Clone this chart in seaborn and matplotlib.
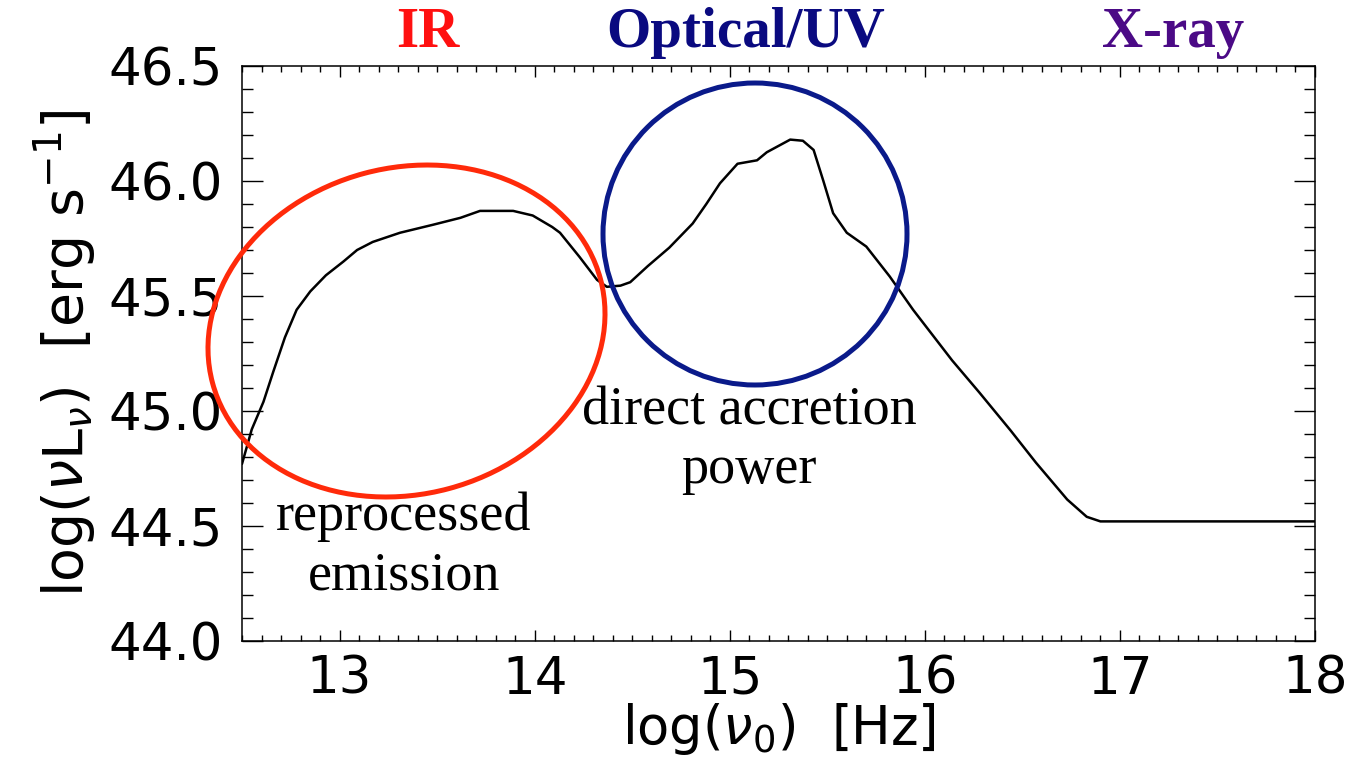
import matplotlib
matplotlib.use("Agg")
import matplotlib.pyplot as plt
import pandas as pd
import seaborn as sns
from matplotlib.patches import Ellipse
from matplotlib.ticker import MultipleLocator, FormatStrFormatter

# Quasar spectral energy distribution: log frequency [Hz] vs log(nu L_nu) [erg/s]
log_nu = [12.50, 12.55, 12.61, 12.66, 12.72, 12.78, 12.85, 12.93, 13.02, 13.09,
          13.17, 13.31, 13.48, 13.62, 13.72, 13.89, 13.99, 14.09, 14.13, 14.23,
          14.32, 14.37, 14.44, 14.49, 14.58, 14.69, 14.81, 14.88, 14.95, 15.04,
          15.14, 15.19, 15.31, 15.375, 15.43, 15.48, 15.53, 15.60, 15.70, 15.82,
          15.94, 16.14, 16.28, 16.44, 16.57, 16.73, 16.83, 16.90, 18.00]
log_nuLnu = [44.77, 44.92, 45.04, 45.17, 45.32, 45.44, 45.52, 45.59, 45.65, 45.70,
             45.735, 45.775, 45.81, 45.84, 45.87, 45.87, 45.85, 45.80, 45.775, 45.67,
             45.57, 45.54, 45.545, 45.56, 45.63, 45.71, 45.815, 45.90, 45.99, 46.075,
             46.09, 46.125, 46.18, 46.175, 46.135, 46.00, 45.86, 45.775, 45.715, 45.585,
             45.44, 45.22, 45.08, 44.915, 44.775, 44.615, 44.54, 44.52, 44.52]

# Wavelength bands labelled above the frame
band_names = ["IR", "Optical/UV", "X-ray"]
band_centers = [13.45, 15.08, 17.27]
band_colors = ["#FF1010", "#0A0A80", "#4B0A86"]

# Region notes (y is the baseline of the last line)
notes = ["reprocessed\nemission", "direct accretion\npower"]
note_x = [13.33, 15.10]
note_y = [44.226, 44.687]

sns.set_style("ticks")
plt.rcParams["font.family"] = ["DejaVu Sans"]
plt.rcParams["mathtext.fontset"] = "dejavusans"
for key in ["text.color", "axes.labelcolor", "xtick.color", "ytick.color"]:
    plt.rcParams[key] = "black"

W, H = 1348, 757
fig = plt.figure(figsize=(W / 100, H / 100), dpi=100)
ax = fig.add_axes([242 / W, 116 / H, 1073 / W, 575 / H])

df = pd.DataFrame({"log_nu": log_nu, "log_nuLnu": log_nuLnu})
sns.lineplot(data=df, x="log_nu", y="log_nuLnu", ax=ax, color="black",
             lw=1.8, sort=False, estimator=None)

ax.set_xlim(12.5, 18.0)
ax.set_ylim(44.0, 46.5)
ax.xaxis.set_major_locator(MultipleLocator(1))
ax.xaxis.set_minor_locator(MultipleLocator(0.1))
ax.yaxis.set_major_locator(MultipleLocator(0.5))
ax.yaxis.set_minor_locator(MultipleLocator(0.1))
ax.xaxis.set_major_formatter(FormatStrFormatter("%d"))
ax.yaxis.set_major_formatter(FormatStrFormatter("%.1f"))

for s in ax.spines.values():
    s.set_color("black")
    s.set_linewidth(1.1)

ax.tick_params(which="both", direction="in", top=True, right=True,
               color="black", width=1.0)
ax.tick_params(axis="x", which="major", length=8, pad=10, labelsize=37)
ax.tick_params(axis="x", which="minor", length=4)
ax.tick_params(axis="y", which="major", length=15, pad=14, labelsize=37)
ax.tick_params(axis="y", which="minor", length=8)

ax.set_xlabel(r"log($\nu_0$)  [Hz]", fontsize=38)
ax.set_ylabel(r"log($\nu\mathrm{L}_\nu$)  [erg s$^{-1}$]", fontsize=40)
ax.xaxis.set_label_coords(0.5, -0.104)
ax.yaxis.set_label_coords(-0.134, 0.5)

# Band names above the plot
top_tr = ax.get_xaxis_transform()
for name, xc, col in zip(band_names, band_centers, band_colors):
    ax.text(xc, 1.057, name, transform=top_tr, ha="center", va="center",
            fontsize=41, fontweight="bold", color=col,
            family=["Liberation Serif", "DejaVu Serif"], clip_on=False)

for txt, xn, yn in zip(notes, note_x, note_y):
    ax.text(xn, yn, txt, ha="center", va="baseline", fontsize=39,
            linespacing=1.22, family=["Liberation Serif", "DejaVu Serif"],
            color="black")

# Highlight rings (sized in inches so they stay round / elliptical)
rings = [
    dict(xy=(4.065, 4.26), width=4.016, height=3.264, angle=15, color="#FF2A0A"),
    dict(xy=(7.55, 5.23), width=3.04, height=3.02, angle=0, color="#0A1A8A"),
]
for r in rings:
    e = Ellipse(r["xy"], r["width"], r["height"], angle=r["angle"],
                transform=fig.dpi_scale_trans, fill=False,
                edgecolor=r["color"], lw=3.6, clip_on=False, zorder=5)
    fig.add_artist(e)

fig.savefig("out.png", dpi=100)
